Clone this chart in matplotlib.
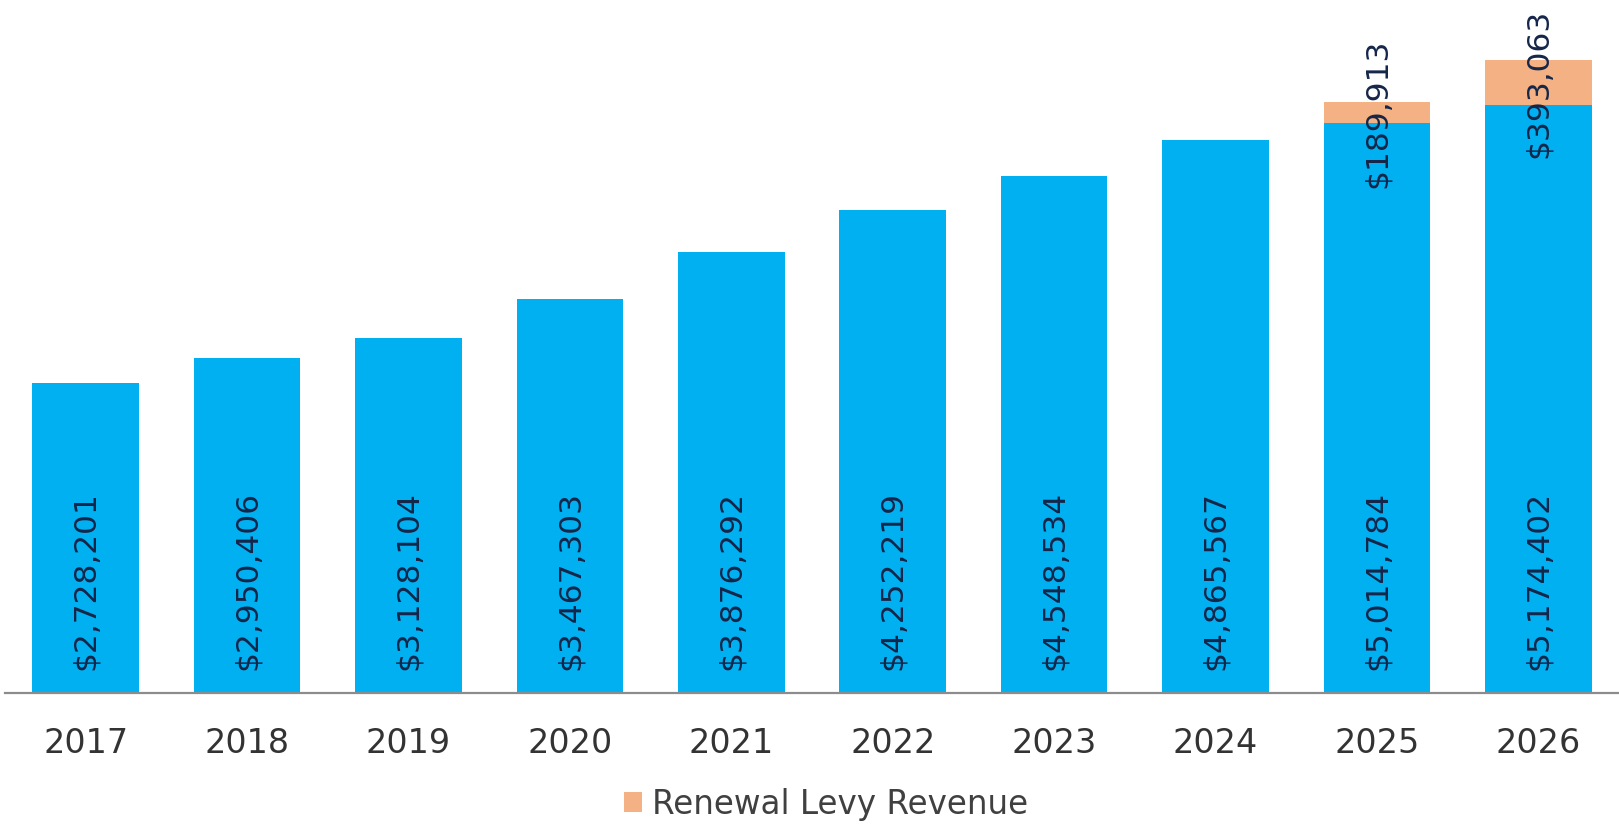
import numpy as np
import matplotlib
matplotlib.use("Agg")
import matplotlib.pyplot as plt

plt.rcParams['font.family'] = ['DejaVu Sans']

# data
years = ["2017", "2018", "2019", "2020", "2021", "2022", "2023", "2024", "2025", "2026"]
base_revenue = [2728201, 2950406, 3128104, 3467303, 3876292, 4252219, 4548534, 4865567, 5014784, 5174402]
levy_revenue = [0, 0, 0, 0, 0, 0, 0, 0, 189913, 393063]

blue = "#00B0F0"
orange = "#F4B183"
label_col = "#15264a"

fig = plt.figure(figsize=(16.19, 8.28), dpi=100)
ax = fig.add_axes([5/1619, 134/828, 1 - 5/1619, 694/828])

x = np.arange(len(years))
w = 0.66
b1 = ax.bar(x, base_revenue, w, color=blue, zorder=2)
levy = np.array(levy_revenue)
b2 = ax.bar(x, levy, w, bottom=base_revenue, color=orange, zorder=2,
            label="Renewal Levy Revenue")

# base labels, anchored near the bottom of each bar
for xi, v in zip(x, base_revenue):
    ax.annotate("${:,}".format(v), (xi, 0), xytext=(0, 17), textcoords="offset points",
                rotation=90, ha="center", va="bottom", fontsize=22.5, color=label_col, zorder=3)

# levy labels, centered on the orange segment
for xi, v, b in zip(x, levy_revenue, base_revenue):
    if v > 0:
        ax.text(xi, b + v / 2, "${:,}".format(v), rotation=90, ha="center", va="center",
                fontsize=22.5, color=label_col, zorder=3)

ax.set_xlim(-0.5, len(years) - 0.5)
ax.set_ylim(0, 6.107e6)
ax.set_xticks(x)
ax.set_xticklabels(years, fontsize=24, color="#333333")
ax.tick_params(axis="x", length=0, pad=24)
ax.set_yticks([])
for s in ["top", "right", "left"]:
    ax.spines[s].set_visible(False)
ax.spines["bottom"].set_color("#8c8c8c")
ax.spines["bottom"].set_linewidth(1.6)

fig.legend(handles=[b2], labels=["Renewal Levy Revenue"], loc="center",
           bbox_to_anchor=(826/1619, 1 - 805/828), frameon=False, fontsize=23.5,
           handlelength=0.55, handleheight=0.55, handletextpad=0.3, labelcolor="#404040")

fig.savefig("out.png", dpi=100)
